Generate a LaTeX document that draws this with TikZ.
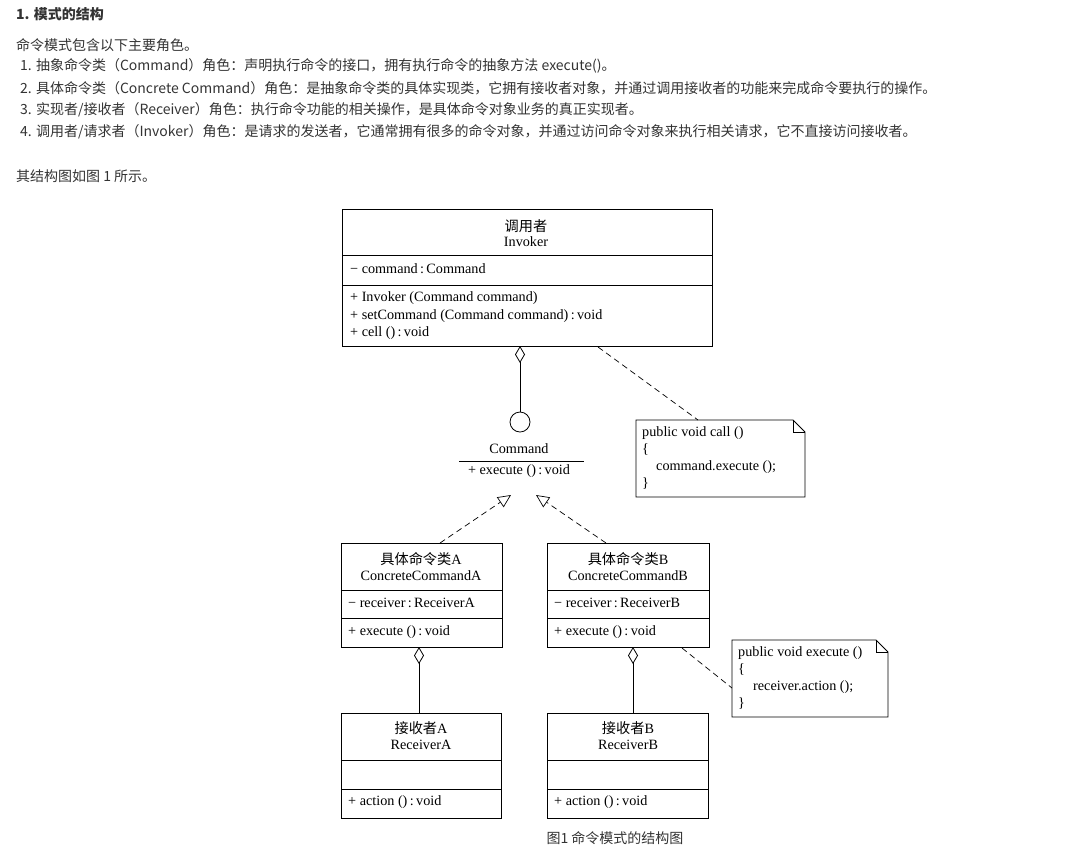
\documentclass[tikz,border=0pt]{standalone}
\usepackage{fontspec}
\setmainfont{Liberation Serif}
\newfontfamily\cjk{Noto Sans CJK SC}
\usetikzlibrary{arrows.meta,shapes.geometric}
\definecolor{txt}{HTML}{333333}
\tikzset{
 para/.style={anchor=west,inner sep=0pt,text=txt,font=\cjk\fontsize{14}{16}\selectfont},
 ctext/.style={inner sep=0pt,font=\fontsize{14.2}{16}\selectfont},
 ltext/.style={anchor=west,inner sep=0pt,font=\fontsize{14.2}{16}\selectfont},
 box/.style={draw,line width=0.8pt},
 dsh/.style={dash pattern=on 6pt off 4pt,line width=0.7pt},
 inh/.style={-{Triangle[open,length=13pt,width=12pt]}},
 agg/.style={{Diamond[open,length=17pt,width=10pt]}-},
}
\begin{document}
\begin{tikzpicture}[x=1pt,y=-1pt]
\useasboundingbox (0,0) rectangle (1083,855);
\node[para,font=\cjk\bfseries\fontsize{14}{16}\selectfont] (h) at (16,14) {1. 模式的结构};
\node[para] (p0) at (16,45) {命令模式包含以下主要角色。};
\node[para] (p1) at (20,66) {1. 抽象命令类（Command）角色：声明执行命令的接口，拥有执行命令的抽象方法 execute()。};
\node[para] (p2) at (20,88) {2. 具体命令类（Concrete Command）角色：是抽象命令类的具体实现类，它拥有接收者对象，并通过调用接收者的功能来完成命令要执行的操作。};
\node[para] (p3) at (20,110) {3. 实现者/接收者（Receiver）角色：执行命令功能的相关操作，是具体命令对象业务的真正实现者。};
\node[para] (p4) at (20,132) {4. 调用者/请求者（Invoker）角色：是请求的发送者，它通常拥有很多的命令对象，并通过访问命令对象来执行相关请求，它不直接访问接收者。};
\node[para] (p5) at (16,176) {其结构图如图 1 所示。};

% Invoker
\draw[box] (342,209) rectangle (712,346);
\draw[box] (342,255) -- (712,255) (342,285) -- (712,285);
\node[ctext] (it1) at (526,226) {\cjk 调用者};
\node[ctext] (it2) at (526,242) {Invoker};
\node[ltext] (ia) at (350,269) {− command\,:\,Command};
\node[ltext] (im1) at (350,298) {+ Invoker (Command command)};
\node[ltext] (im2) at (350,316) {+ setCommand (Command command)\,:\,void};
\node[ltext] (im3) at (350,333) {+ cell ()\,:\,void};
\coordinate (invb) at (520,346);
\coordinate (invn) at (598,347);

% Command interface
\node[draw,circle,minimum size=20pt,inner sep=0pt,line width=0.8pt] (ci) at (520,422) {};
\draw[agg,line width=0.8pt] (invb) -- (ci);
\node[ctext] (cn) at (519,449) {Command};
\draw[line width=0.8pt] (459,461) -- (584,461);
\node[ctext] (ce) at (519,471) {+ execute ()\,:\,void};
\coordinate (cl) at (511,495);
\coordinate (cr) at (536,495);

% Note 1
\draw[box] (636,420) -- (793,420) -- (805,432) -- (805,497) -- (636,497) -- cycle;
\draw[line width=0.8pt] (793,420) -- (793,432) -- (805,432);
\coordinate (n1) at (698,420);
\draw[dsh] (invn) -- (n1);
\node[ltext] (n1a) at (642,433) {public void call ()};
\node[ltext] (n1b) at (642,450) {\{};
\node[ltext] (n1c) at (656,467) {command.execute ();};
\node[ltext] (n1d) at (642,484) {\}};

% Concrete A
\draw[box] (341,543) rectangle (502,647);
\draw[box] (341,590) -- (502,590) (341,618) -- (502,618);
\node[ctext] (a1) at (421,559) {\cjk 具体命令类\rmfamily A};
\node[ctext] (a2) at (421,576) {ConcreteCommandA};
\node[ltext] (a3) at (348,603) {− receiver\,:\,ReceiverA};
\node[ltext] (a4) at (348,632) {+ execute ()\,:\,void};
\coordinate (at) at (440,543);
\coordinate (ab) at (419,647);
\draw[dsh,inh] (at) -- (cl);

% Concrete B
\draw[box] (547,543) rectangle (709,647);
\draw[box] (547,590) -- (709,590) (547,618) -- (709,618);
\node[ctext] (b1) at (628,559) {\cjk 具体命令类\rmfamily B};
\node[ctext] (b2) at (628,576) {ConcreteCommandB};
\node[ltext] (b3) at (554,603) {− receiver\,:\,ReceiverB};
\node[ltext] (b4) at (554,632) {+ execute ()\,:\,void};
\coordinate (bt) at (606,543);
\coordinate (bb) at (633,647);
\coordinate (bn) at (682,648);
\draw[dsh,inh] (bt) -- (cr);

% Note 2
\draw[box] (732,640) -- (876,640) -- (888,652) -- (888,717) -- (732,717) -- cycle;
\draw[line width=0.8pt] (876,640) -- (876,652) -- (888,652);
\coordinate (n2) at (732,688);
\draw[dsh] (bn) -- (n2);
\node[ltext] (n2a) at (738,653) {public void execute ()};
\node[ltext] (n2b) at (738,670) {\{};
\node[ltext] (n2c) at (753,687) {receiver.action ();};
\node[ltext] (n2d) at (738,704) {\}};

% Receiver A
\draw[box] (341,713) rectangle (501,818);
\draw[box] (341,760) -- (501,760) (341,789) -- (501,789);
\node[ctext] (ra1) at (421,728) {\cjk 接收者\rmfamily A};
\node[ctext] (ra2) at (421,745) {ReceiverA};
\node[ltext] (ra3) at (348,802) {+ action ()\,:\,void};
\coordinate (rat) at (419,713);
\draw[agg,line width=0.8pt] (ab) -- (rat);

% Receiver B
\draw[box] (547,713) rectangle (708,818);
\draw[box] (547,760) -- (708,760) (547,789) -- (708,789);
\node[ctext] (rb1) at (628,728) {\cjk 接收者\rmfamily B};
\node[ctext] (rb2) at (628,745) {ReceiverB};
\node[ltext] (rb3) at (554,802) {+ action ()\,:\,void};
\coordinate (rbt) at (633,713);
\draw[agg,line width=0.8pt] (bb) -- (rbt);

\node[inner sep=0pt,text=txt,font=\cjk\fontsize{14}{16}\selectfont] (cap) at (615,838) {图1 命令模式的结构图};
\end{tikzpicture}
\end{document}
